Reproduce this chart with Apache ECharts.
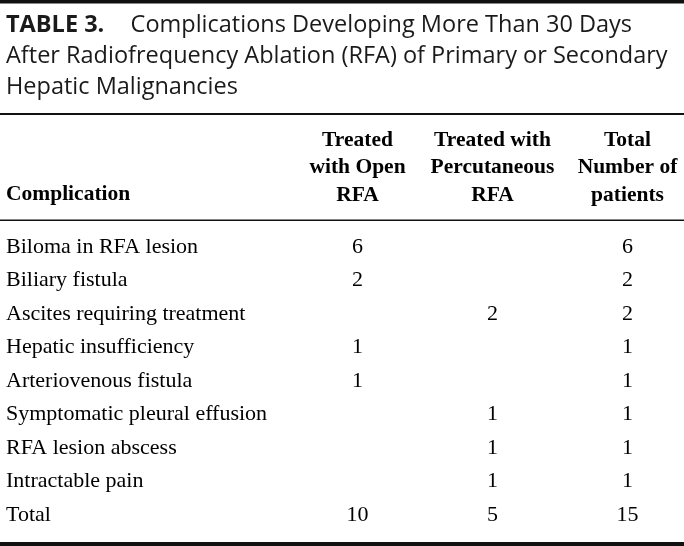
<!DOCTYPE html>
<html>
<head>
<meta charset="utf-8">
<script src="https://cdn.jsdelivr.net/npm/echarts@6/dist/echarts.min.js"></script>
<style>
  html, body { margin: 0; padding: 0; background: #fff; }
  #chart { width: 684px; height: 546px; }
</style>
</head>
<body>
<div id="chart"></div>
<script>
// ---- Data ----
const titleLines = [
  'Complications Developing More Than 30 Days',
  'After Radiofrequency Ablation (RFA) of Primary or Secondary',
  'Hepatic Malignancies'
];
const tableLabel = 'TABLE 3.';
const firstColumnHeader = 'Complication';
const columnHeaders = [
  'Treated\nwith Open\nRFA',
  'Treated with\nPercutaneous\nRFA',
  'Total\nNumber of\npatients'
];
const complications = [
  'Biloma in RFA lesion',
  'Biliary fistula',
  'Ascites requiring treatment',
  'Hepatic insufficiency',
  'Arteriovenous fistula',
  'Symptomatic pleural effusion',
  'RFA lesion abscess',
  'Intractable pain',
  'Total'
];
const openRFA = [6, 2, null, 1, 1, null, null, null, 10];
const percutaneousRFA = [null, null, 2, null, null, 1, 1, 1, 5];
const totalPatients = [6, 2, 2, 1, 1, 1, 1, 1, 15];

// ---- Chart ----
const chart = echarts.init(document.getElementById('chart'), null, { renderer: 'canvas' });

const serif = "'Liberation Serif', 'Times New Roman', serif";
const sans = "'Open Sans', Lato, sans-serif";

function cells(values, colIdx) {
  const out = [];
  values.forEach((v, i) => {
    if (v !== null && v !== undefined) out.push([columnHeaders[colIdx], complications[i], v]);
  });
  return out;
}

function tableSeries(values, colIdx) {
  return {
    type: 'scatter',
    data: cells(values, colIdx),
    symbolSize: 1,
    itemStyle: { color: 'rgba(0,0,0,0)', opacity: 1 },
    silent: true,
    emphasis: { disabled: true },
    label: {
      show: true,
      position: 'inside',
      formatter: p => String(p.value[2]),
      fontFamily: serif,
      fontSize: 22,
      color: '#000',
      opacity: 1,
      textBorderWidth: 0
    }
  };
}

const rule = (y, h) => ({
  type: 'rect',
  shape: { x: 0, y: y, width: 684, height: h },
  style: { fill: '#111' },
  silent: true
});

const option = {
  animation: false,
  backgroundColor: '#fff',
  title: {
    text: '{b|' + tableLabel + '}   ' + titleLines.join('\n'),
    left: 6,
    top: 10,
    padding: 0,
    textStyle: {
      fontFamily: sans,
      fontSize: 23.5,
      fontWeight: 'normal',
      lineHeight: 31,
      color: '#1a1a1a',
      rich: {
        b: { fontFamily: sans, fontSize: 23.5, fontWeight: 'bold', lineHeight: 31, color: '#1a1a1a', padding: [0, 8, 0, 0] }
      }
    }
  },
  grid: { left: 290, top: 230, width: 405, height: 302, outerBoundsMode: 'none', containLabel: false },
  xAxis: {
    type: 'category',
    position: 'top',
    data: columnHeaders,
    axisLine: { show: false },
    axisTick: { show: false },
    splitLine: { show: false },
    axisLabel: {
      interval: 0,
      margin: 21,
      fontFamily: serif,
      fontWeight: 'bold',
      fontSize: 21.5,
      lineHeight: 27.5,
      color: '#000',
      align: 'center'
    }
  },
  yAxis: {
    type: 'category',
    inverse: true,
    data: complications,
    axisLine: { show: false },
    axisTick: { show: false },
    splitLine: { show: false },
    axisLabel: {
      interval: 0,
      align: 'left',
      margin: 284,
      fontFamily: serif,
      fontSize: 22,
      color: '#000'
    }
  },
  series: [
    tableSeries(openRFA, 0),
    tableSeries(percutaneousRFA, 1),
    tableSeries(totalPatients, 2)
  ],
  graphic: [
    rule(0, 3.5),
    rule(113, 2),
    rule(219.5, 1.5),
    rule(542, 4),
    {
      type: 'text',
      left: 6,
      top: 183,
      silent: true,
      style: {
        text: firstColumnHeader,
        fontFamily: serif,
        fontWeight: 'bold',
        fontSize: 21.5,
        fill: '#000'
      }
    }
  ]
};

chart.setOption(option);
</script>
</body>
</html>
